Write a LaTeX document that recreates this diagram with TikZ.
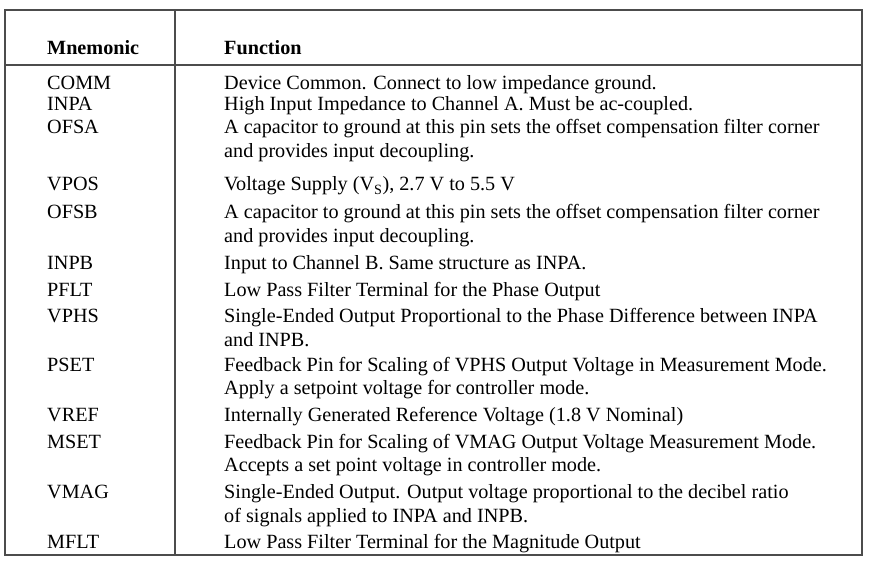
\documentclass[tikz,border=0pt]{standalone}
\usepackage{fontspec}
\setmainfont{Liberation Serif}
\begin{document}
\begin{tikzpicture}[x=1pt,y=-1pt,
 t/.style={anchor=base west,inner sep=0pt,font=\fontsize{20.2}{24}\selectfont},
 h/.style={t,font=\fontsize{20.2}{24}\selectfont\bfseries},
 rule/.style={draw=black!70,line width=1.3pt}]
\useasboundingbox (0,0) rectangle (871,564);
\draw[rule] (5,10) rectangle (862,555);
\draw[rule] (175,10) -- (175,555);
\draw[rule] (5,65) -- (862,65);
\node[h] (hm) at (47,55) {Mnemonic};
\node[h] (hf) at (224,55) {Function};
\foreach \y/\m/\f [count=\i] in {
 90/COMM/{Device Common. Connect to low impedance ground.},
 111/INPA/{High Input Impedance to Channel A. Must be ac-coupled.},
 134/OFSA/{A capacitor to ground at this pin sets the offset compensation filter corner},
 191/VPOS/{Voltage Supply (V\textsubscript{S}), 2.7 V to 5.5 V},
 219/OFSB/{A capacitor to ground at this pin sets the offset compensation filter corner},
 270/INPB/{Input to Channel B. Same structure as INPA.},
 297/PFLT/{Low Pass Filter Terminal for the Phase Output},
 323/VPHS/{Single-Ended Output Proportional to the Phase Difference between INPA},
 371/PSET/{Feedback Pin for Scaling of VPHS Output Voltage in Measurement Mode.},
 421/VREF/{Internally Generated Reference Voltage (1.8 V Nominal)},
 448/MSET/{Feedback Pin for Scaling of VMAG Output Voltage Measurement Mode.},
 498/VMAG/{Single-Ended Output. Output voltage proportional to the decibel ratio},
 548/MFLT/{Low Pass Filter Terminal for the Magnitude Output}}{
 \node[t] (m\i) at (47,\y) {\m};
 \node[t] (f\i) at (224,\y) {\f};
}
\foreach \y/\f [count=\i] in {
 158/{and provides input decoupling.},
 243/{and provides input decoupling.},
 346/{and INPB.},
 395/{Apply a setpoint voltage for controller mode.},
 471/{Accepts a set point voltage in controller mode.},
 522/{of signals applied to INPA and INPB.}}{
 \node[t] (g\i) at (224,\y) {\f};
}
\end{tikzpicture}
\end{document}
